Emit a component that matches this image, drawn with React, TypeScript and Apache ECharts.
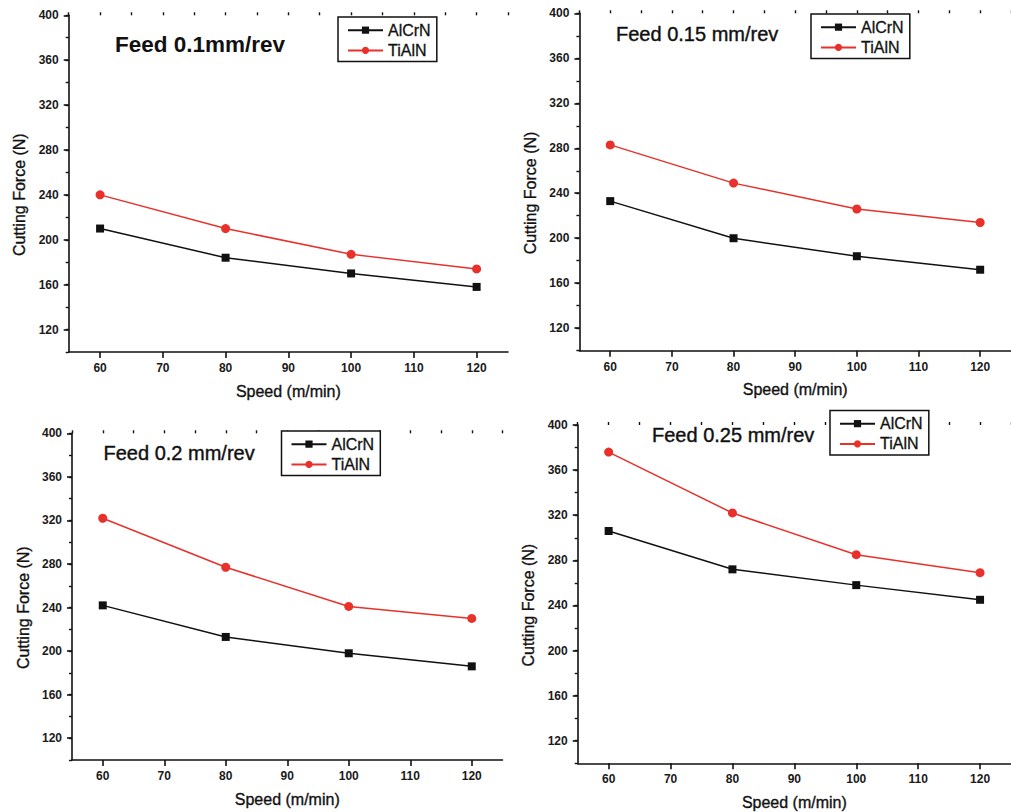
import React, { useEffect, useRef } from 'react';
import * as echarts from 'echarts';

// ---------- data ----------
const speeds = [60, 80, 100, 120];
const seriesNames = ['AlCrN', 'TiAlN'];
const feedTitles = ['Feed 0.1mm/rev', 'Feed 0.15 mm/rev', 'Feed 0.2 mm/rev', 'Feed 0.25 mm/rev'];

const alcrnFeed010 = [210, 184, 170, 158];
const tialnFeed010 = [240, 210, 187, 174];
const alcrnFeed015 = [233, 200, 184, 172];
const tialnFeed015 = [283, 249, 226, 214];
const alcrnFeed020 = [242, 213, 198, 186];
const tialnFeed020 = [322, 277, 241, 230];
const alcrnFeed025 = [306, 272, 258, 245];
const tialnFeed025 = [376, 322, 285, 269];

const xTickLabels = [60, 70, 80, 90, 100, 110, 120];
const yTickLabels = [120, 160, 200, 240, 280, 320, 360, 400];
const xAxisName = 'Speed (m/min)';
const yAxisName = 'Cutting Force (N)';

const panelData = [
  [alcrnFeed010, tialnFeed010],
  [alcrnFeed015, tialnFeed015],
  [alcrnFeed020, tialnFeed020],
  [alcrnFeed025, tialnFeed025],
];

// ---------- layout ----------
const FONT = '"Liberation Sans", Arial, sans-serif';
const BLACK = '#111111';
const RED = '#e8312a';

const layouts = [
  {
    grid: { left: 68.7, top: 15.3, width: 439.3, height: 336.7 },
    title: { left: 115, top: 33, fontSize: 22.5, fontWeight: 'bold', border: 0 },
    legend: { left: 338, top: 17 },
  },
  {
    grid: { left: 579.4, top: 13.3, width: 442.2, height: 337.4 },
    title: { left: 616, top: 23.7, fontSize: 20, fontWeight: 'normal', border: 0.4 },
    legend: { left: 811, top: 14 },
  },
  {
    grid: { left: 72, top: 433.3, width: 430.5, height: 326.7 },
    title: { left: 103.5, top: 442.8, fontSize: 20, fontWeight: 'normal', border: 0.4 },
    legend: { left: 281.5, top: 431 },
  },
  {
    grid: { left: 577.7, top: 425, width: 442.2, height: 338.3 },
    title: { left: 652, top: 424.7, fontSize: 20, fontWeight: 'normal', border: 0.4 },
    legend: { left: 830, top: 410.5 },
  },
];

function buildOption() {
  const grids: any[] = [];
  const xAxes: any[] = [];
  const yAxes: any[] = [];
  const series: any[] = [];
  const titles: any[] = [];
  const legends: any[] = [];

  const nameStyle = {
    fontSize: 16,
    color: BLACK,
    fontFamily: FONT,
    textBorderColor: BLACK,
    textBorderWidth: 0.35,
  };
  const tickLabelStyle = {
    fontSize: 12,
    fontWeight: 'bold',
    color: '#1a1a1a',
    fontFamily: FONT,
  };

  layouts.forEach((lay, i) => {
    grids.push({ ...lay.grid, containLabel: false });

    xAxes.push({
      gridIndex: i,
      type: 'value',
      min: 55,
      max: 125,
      interval: 5,
      name: xAxisName,
      nameLocation: 'middle',
      nameGap: 31,
      nameTextStyle: { ...nameStyle },
      axisLine: { show: true, onZero: false, lineStyle: { color: BLACK, width: 1.6 } },
      axisTick: { show: true, length: 6, customValues: xTickLabels, lineStyle: { color: BLACK, width: 1.6 } },
      axisLabel: {
        margin: 10,
        ...tickLabelStyle,
        customValues: xTickLabels,
        formatter: (v: number) => (xTickLabels.indexOf(v) >= 0 ? String(v) : ''),
      },
      splitLine: { show: false },
    });
    xAxes.push({
      gridIndex: i,
      type: 'value',
      min: 55,
      max: 125,
      interval: 5,
      axisLine: { show: false },
      axisTick: { show: true, length: 3, lineStyle: { color: BLACK, width: 1.4 } },
      axisLabel: { show: false },
      splitLine: { show: false },
    });

    yAxes.push({
      gridIndex: i,
      type: 'value',
      position: 'left',
      min: 100,
      max: 400,
      interval: 20,
      name: yAxisName,
      nameLocation: 'middle',
      nameGap: 41,
      nameTextStyle: { ...nameStyle, padding: [0, 22, 0, 0] },
      axisLine: { show: true, onZero: false, lineStyle: { color: BLACK, width: 1.6 } },
      axisTick: { show: true, length: 5, customValues: yTickLabels, lineStyle: { color: BLACK, width: 1.6 } },
      axisLabel: {
        margin: 10,
        ...tickLabelStyle,
        customValues: yTickLabels,
        formatter: (v: number) => (yTickLabels.indexOf(v) >= 0 ? String(v) : ''),
      },
      splitLine: { show: false },
    });
    yAxes.push({
      gridIndex: i,
      type: 'value',
      position: 'left',
      min: 100,
      max: 400,
      interval: 20,
      axisLine: { show: false },
      axisTick: { show: true, length: 3, lineStyle: { color: BLACK, width: 1.4 } },
      axisLabel: { show: false },
      splitLine: { show: false },
    });

    const [alcrn, tialn] = panelData[i];
    series.push({
      type: 'line',
      name: seriesNames[0],
      xAxisIndex: 2 * i,
      yAxisIndex: 2 * i,
      data: speeds.map((s, k) => [s, alcrn[k]]),
      symbol: 'rect',
      symbolSize: 8,
      color: BLACK,
      itemStyle: { color: BLACK },
      lineStyle: { color: BLACK, width: 1.5 },
    });
    series.push({
      type: 'line',
      name: seriesNames[1],
      xAxisIndex: 2 * i,
      yAxisIndex: 2 * i,
      data: speeds.map((s, k) => [s, tialn[k]]),
      symbol: 'circle',
      symbolSize: 9,
      color: RED,
      itemStyle: { color: RED },
      lineStyle: { color: RED, width: 1.5 },
    });

    titles.push({
      text: feedTitles[i],
      left: lay.title.left,
      top: lay.title.top,
      padding: 0,
      textStyle: {
        fontSize: lay.title.fontSize,
        fontWeight: lay.title.fontWeight,
        color: BLACK,
        fontFamily: FONT,
        textBorderColor: BLACK,
        textBorderWidth: lay.title.border,
      },
    });

    legends.push({
      left: lay.legend.left,
      top: lay.legend.top,
      orient: 'vertical',
      itemWidth: 35,
      itemHeight: 9,
      itemGap: 4,
      padding: [5, 6, 3, 9],
      borderColor: BLACK,
      borderWidth: 1.5,
      backgroundColor: '#ffffff',
      selectedMode: false,
      textStyle: {
        fontSize: 16,
        color: BLACK,
        fontFamily: FONT,
        textBorderColor: BLACK,
        textBorderWidth: 0.3,
      },
      data: seriesNames,
    });
  });

  return {
    animation: false,
    backgroundColor: '#ffffff',
    title: titles,
    legend: legends,
    grid: grids,
    xAxis: xAxes,
    yAxis: yAxes,
    series,
  };
}

export default function App() {
  const ref = useRef<HTMLDivElement>(null);
  useEffect(() => {
    if (!ref.current) return;
    const chart = echarts.init(ref.current, undefined, { renderer: 'svg' });
    chart.setOption(buildOption() as any);
    return () => chart.dispose();
  }, []);
  return (
    <div
      ref={ref}
      style={{ position: 'absolute', left: 0, top: 0, width: 1011, height: 812, background: '#fff' }}
    />
  );
}
